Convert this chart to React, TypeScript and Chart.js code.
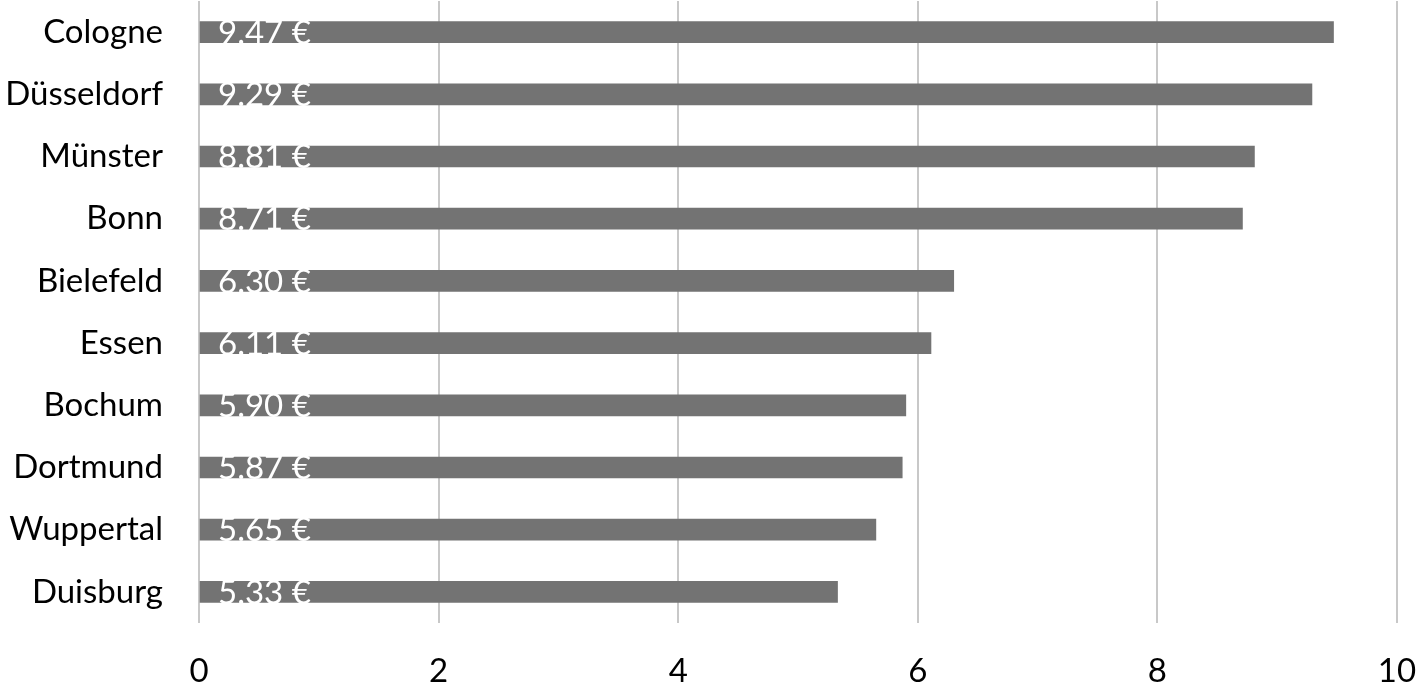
import React, { useEffect, useRef } from "react";
import { Chart, registerables } from "chart.js";

Chart.register(...registerables);

const cities = ["Cologne", "Düsseldorf", "Münster", "Bonn", "Bielefeld", "Essen", "Bochum", "Dortmund", "Wuppertal", "Duisburg"];
const prices = [9.47, 9.29, 8.81, 8.71, 6.3, 6.11, 5.9, 5.87, 5.65, 5.33];
const xTicks = [0, 2, 4, 6, 8, 10];

const FONT = "Lato, 'Open Sans', sans-serif";
const FS = 33;

const labelPlugin = {
  id: "barLabels",
  afterDatasetsDraw(chart: any) {
    const ctx = chart.ctx;
    const meta = chart.getDatasetMeta(0);
    ctx.save();
    ctx.fillStyle = "#ffffff";
    ctx.font = `${FS}px ${FONT}`;
    ctx.textAlign = "left";
    ctx.textBaseline = "middle";
    meta.data.forEach((bar: any, i: number) => {
      const v = prices[i];
      ctx.fillText(`${v.toFixed(2)} €`, bar.base + 18, bar.y + 1);
    });
    ctx.restore();
  },
};

export default function App() {
  const ref = useRef<HTMLCanvasElement | null>(null);
  useEffect(() => {
    document.body.style.margin = "0";
    const chart = new Chart(ref.current!, {
      type: "bar",
      data: {
        labels: cities,
        datasets: [
          {
            data: prices,
            backgroundColor: "#737373",
            barThickness: 21,
          },
        ],
      },
      plugins: [labelPlugin],
      options: {
        indexAxis: "y",
        animation: false,
        responsive: false,
        maintainAspectRatio: false,
        layout: { padding: { top: 1, right: 22, bottom: 6, left: 0 } },
        plugins: { legend: { display: false }, tooltip: { enabled: false } },
        scales: {
          x: {
            min: 0,
            max: 10,
            afterBuildTicks: (axis: any) => {
              axis.ticks = xTicks.map((v) => ({ value: v }));
            },
            afterFit: (axis: any) => {
              axis.paddingLeft = 0;
              axis.paddingRight = 0;
              axis.height = 66;
            },
            grid: { color: "#c8c8c8", lineWidth: 2, drawTicks: false },
            border: { display: false },
            ticks: { color: "#000", font: { family: FONT, size: FS }, padding: 29 },
          },
          y: {
            grid: { display: false },
            border: { display: false },
            afterFit: (axis: any) => {
              axis.width = 199;
              axis.paddingTop = 0;
              axis.paddingBottom = 0;
            },
            ticks: { color: "#000", font: { family: FONT, size: FS }, padding: 28 },
          },
        },
      },
    });
    return () => chart.destroy();
  }, []);
  return (
    <div style={{ position: "absolute", left: 0, top: 0, width: 1419, height: 695 }}>
      <canvas ref={ref} width={1419} height={695} style={{ display: "block" }} />
    </div>
  );
}
